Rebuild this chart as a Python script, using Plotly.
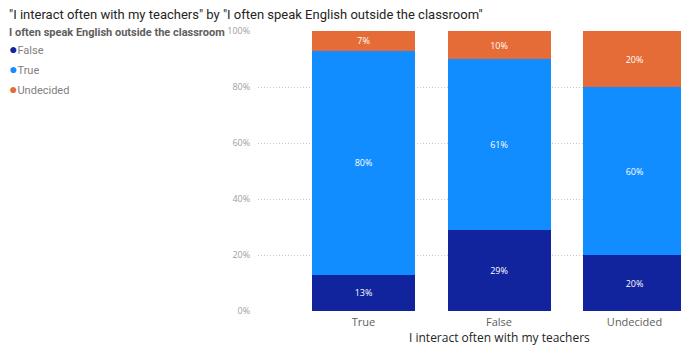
import plotly.graph_objects as go

# Responses to "I interact often with my teachers"
categories = ["True", "False", "Undecided"]
# Share (%) of each answer to "I often speak English outside the classroom"
pct_false = [13, 29, 20]
pct_true = [80, 61, 60]
pct_undecided = [7, 10, 20]
y_ticks = [0, 20, 40, 60, 80, 100]
y_tick_labels = ["0%", "20%", "40%", "60%", "80%", "100%"]

series = [
    ("False", pct_false, "#12239E"),
    ("True", pct_true, "#118DFF"),
    ("Undecided", pct_undecided, "#E66C37"),
]

W, H = 681, 347
M_L, M_R, M_T, M_B = 258, 0, 31, 36
PW, PH = W - M_L - M_R, H - M_T - M_B
NARROW = "Liberation Sans Narrow, Roboto, sans-serif"

fig = go.Figure()
for name, vals, color in series:
    fig.add_trace(go.Bar(
        x=categories, y=vals, name=name,
        marker=dict(color=color, line=dict(width=0)),
        text=[f"{v}%" for v in vals],
        textposition="inside", insidetextanchor="middle",
        textfont=dict(color="white", size=9, family="Open Sans"),
        textangle=0, width=0.76, showlegend=False,
        hoverinfo="skip",
    ))

annotations = [
    dict(text='"I interact often with my teachers" by "I often speak English outside the classroom"',
         xref="paper", yref="paper", x=-(M_L - 7) / PW, y=1 + 17 / PH,
         xanchor="left", yanchor="middle", showarrow=False,
         font=dict(size=13, color="#252423", family=NARROW)),
    dict(text="I interact often with my teachers",
         xref="x", yref="paper", x=1, y=-26 / PH,
         xanchor="center", yanchor="middle", showarrow=False,
         font=dict(size=12, color="#252423")),
    dict(text="<b>I often speak English outside the classroom</b>",
         xref="paper", yref="paper", x=-(M_L - 7) / PW, y=1 - 2 / PH,
         xanchor="left", yanchor="middle", showarrow=False,
         font=dict(size=11, color="#605E5C", family=NARROW)),
]
# Legend: coloured dot followed by the series name
for i, (name, _, color) in enumerate(series):
    annotations.append(dict(
        text=f"<span style='color:{color};font-size:14px'>●</span>{name}",
        xref="paper", yref="paper", x=-(M_L - 7) / PW, y=1 - (18 + 20 * i) / PH,
        xanchor="left", yanchor="middle", showarrow=False,
        font=dict(size=11, color="#808080", family=NARROW),
    ))

fig.update_layout(
    width=W, height=H,
    margin=dict(l=M_L, r=M_R, t=M_T, b=M_B),
    barmode="stack",
    plot_bgcolor="white", paper_bgcolor="white",
    font=dict(family="Open Sans", color="#605E5C"),
    showlegend=False,
    xaxis=dict(
        range=[-0.779, 2.343], showgrid=False, zeroline=False,
        tickfont=dict(size=11, color="#605E5C"), ticks="outside",
        ticklen=1, tickcolor="rgba(0,0,0,0)",
        showline=False, fixedrange=True,
    ),
    yaxis=dict(
        range=[0, 100], tickvals=y_ticks, ticktext=y_tick_labels,
        showgrid=True, gridcolor="#C8C8C8", griddash="1px,2px", gridwidth=1,
        zeroline=False, tickfont=dict(size=9, color="#A0A0A0"),
        ticks="outside", ticklen=5, tickcolor="rgba(0,0,0,0)",
    ),
    annotations=annotations,
)

fig.write_html("out.html")
